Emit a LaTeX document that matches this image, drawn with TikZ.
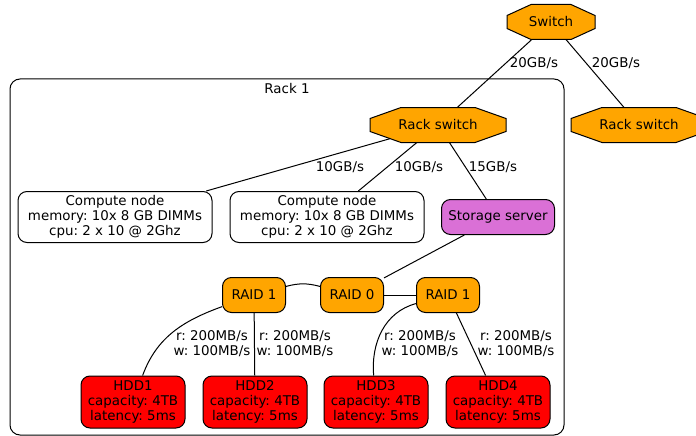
\documentclass[tikz,border=0pt]{standalone}
\usepackage{fontspec}
\setmainfont{DejaVu Sans}
\frenchspacing
\definecolor{gvorange}{RGB}{255,165,0}
\definecolor{gvorchid}{RGB}{218,112,214}
\pgfdeclarelayer{links}
\pgfsetlayers{links,main}
\tikzset{
  txt/.style={font=\fontsize{13.4}{15}\selectfont,align=center,inner sep=0pt},
  box/.style={txt,draw,rounded corners=9pt},
  raid/.style={box,fill=gvorange,minimum width=63pt,minimum height=35pt},
  disk/.style={box,fill=red,minimum width=104pt,minimum height=52pt}
}
%% octagon: name, x, y, half width, chamfer, text
\newcommand{\octo}[6]{%
  \draw[fill=gvorange] (#2-#4+#5,#3-17.5) -- (#2+#4-#5,#3-17.5) -- (#2+#4,#3-6.5)
    -- (#2+#4,#3+6.5) -- (#2+#4-#5,#3+17.5) -- (#2-#4+#5,#3+17.5) -- (#2-#4,#3+6.5)
    -- (#2-#4,#3-6.5) -- cycle;
  \node[txt] (#1) at (#2,#3) {#6};}
\begin{document}
\begin{tikzpicture}[x=1pt,y=-1pt,every path/.style={line width=1pt}]
                \useasboundingbox (0,0) rectangle (696,436);
                %% cluster
                \draw[rounded corners=10pt] (10,79) rectangle (564,435);
                \node[txt] (rack) at (287,89) {Rack 1};
                %% switches
                \octo{sw}{551}{22}{44}{24}{Switch}
                \octo{rs}{438}{125}{68}{31}{Rack switch}
                \octo{rs2}{639}{125}{68}{31}{Rack switch}
                %% servers
                \node[box,minimum width=194pt,minimum height=51pt] (cn1) at (115,217)
                  {Compute node\\memory: 10x 8 GB DIMMs\\cpu: 2 x 10 @ 2Ghz};
                \node[box,minimum width=194pt,minimum height=51pt] (cn2) at (327,217)
                  {Compute node\\memory: 10x 8 GB DIMMs\\cpu: 2 x 10 @ 2Ghz};
                \node[box,fill=gvorchid,minimum width=113pt,minimum height=35pt] (st) at (498,217)
                  {Storage server};
                %% raids
                \node[raid] (ra) at (254,295) {RAID 1};
                \node[raid] (rz) at (352,295) {RAID 0};
                \node[raid] (rb) at (448,295) {RAID 1};
                %% disks
                \foreach \i/\x in {1/133,2/255,3/376,4/498}
                  \node[disk] (hdd\i) at (\x,402) {HDD\i\\capacity: 4TB\\latency: 5ms};
                %% links
                \begin{pgfonlayer}{links}
                \draw (sw.center) -- (rs.center);
                \draw (sw.center) -- (rs2.center);
                \draw (rs.center) -- (cn1);
                \draw (rs.center) -- (cn2);
                \draw (rs.center) -- (st);
                \end{pgfonlayer}
                \draw (st) -- (rz);
                \draw (ra) to[bend left=15] (rz);
                \draw (rz) -- (rb);
                \draw (ra) to[out=200,in=70] (hdd1);
                \draw (ra) -- (hdd2);
                \draw (rb) to[out=195,in=95] (hdd3);
                \draw (rb) -- (hdd4);
                %% labels
                \node[txt] (l1) at (534,63) {20GB/s};
                \node[txt] (l2) at (616,63) {20GB/s};
                \node[txt] (l3) at (340,167) {10GB/s};
                \node[txt] (l4) at (419,167) {10GB/s};
                \node[txt] (l5) at (493,167) {15GB/s};
                \node[txt] (l6) at (212,344) {r: 200MB/s\\w: 100MB/s};
                \node[txt] (l7) at (295,344) {r: 200MB/s\\w: 100MB/s};
                \node[txt] (l8) at (420,344) {r: 200MB/s\\w: 100MB/s};
                \node[txt] (l9) at (516,344) {r: 200MB/s\\w: 100MB/s};
            \end{tikzpicture}
\end{document}
